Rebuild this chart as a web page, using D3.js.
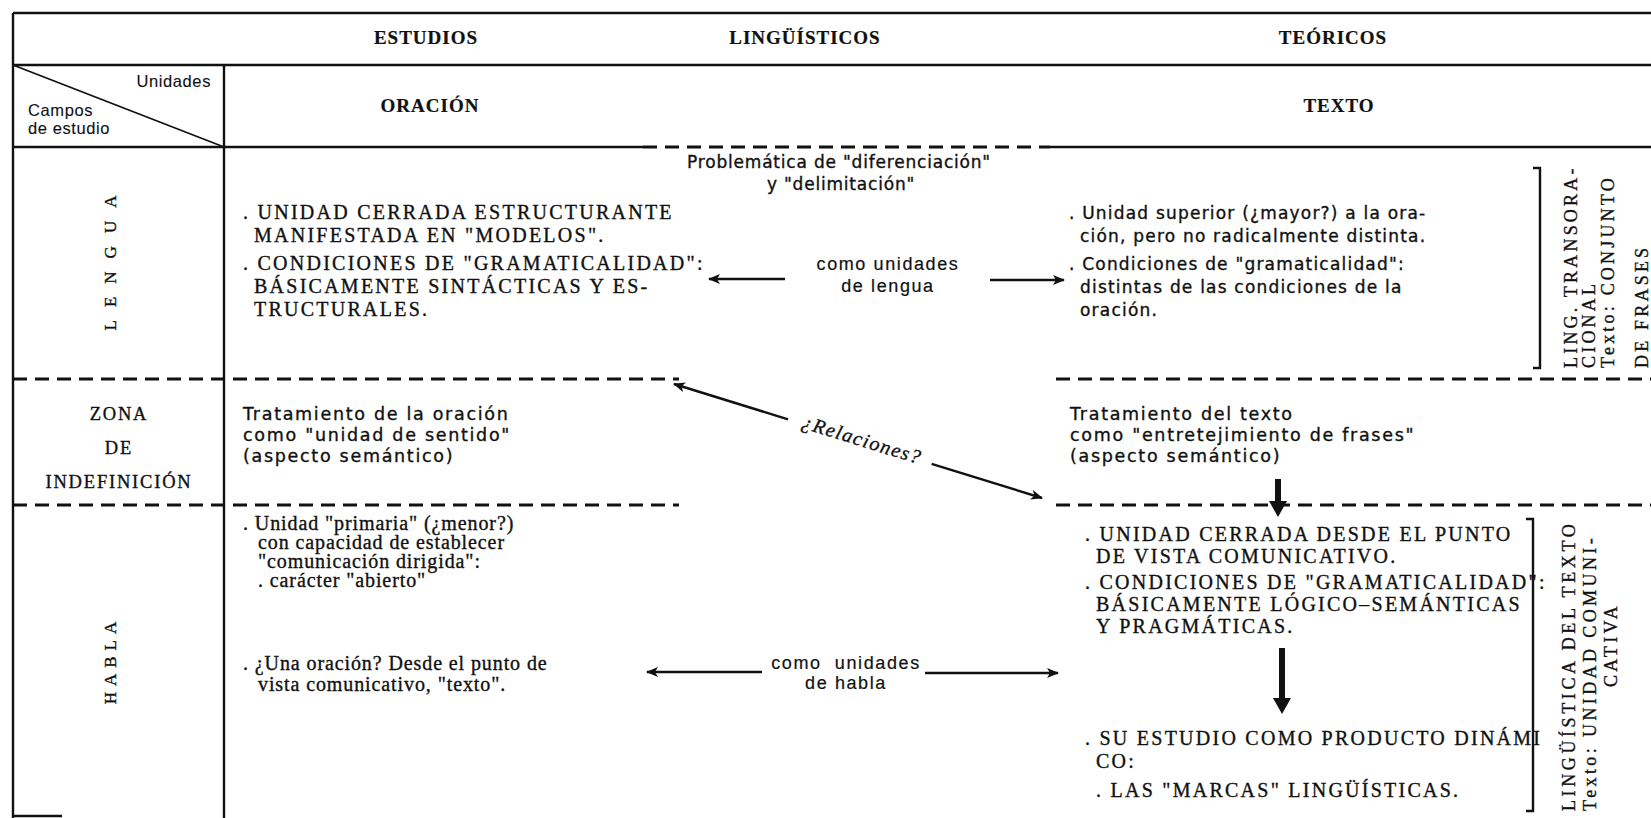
<!DOCTYPE html>
<html><head><meta charset="utf-8">
<script src="https://cdn.jsdelivr.net/npm/d3@7"></script>
<style>body{margin:0;background:#fff;overflow:hidden}</style>
</head><body>
<script>
// ---------- content ----------
const headerWords = ["ESTUDIOS", "LINGÜÍSTICOS", "TEÓRICOS"];
const unitNames = ["ORACIÓN", "TEXTO"];
const cornerUnits = "Unidades";
const cornerFields = ["Campos", "de estudio"];
const fieldRows = ["LENGUA", "ZONA", "HABLA"];
const zonaLabel = ["ZONA", "DE", "INDEFINICIÓN"];
const problemLines = ["Problemática de \"diferenciación\"", "y \"delimitación\""];
const lenguaOracion = [". UNIDAD CERRADA ESTRUCTURANTE", "MANIFESTADA EN \"MODELOS\".",
  ". CONDICIONES DE \"GRAMATICALIDAD\":", "BÁSICAMENTE SINTÁCTICAS Y ES-", "TRUCTURALES."];
const lenguaTexto = [". Unidad superior (¿mayor?) a la ora-", "ción, pero no radicalmente distinta.",
  ". Condiciones de \"gramaticalidad\":", "distintas de las condiciones de la", "oración."];
const lenguaMiddle = ["como unidades", "de lengua"];
const zonaOracion = ["Tratamiento de la oración", "como \"unidad de sentido\"", "(aspecto semántico)"];
const zonaTexto = ["Tratamiento del texto", "como \"entretejimiento de frases\"", "(aspecto semántico)"];
const relationLabel = "¿Relaciones?";
const hablaOracionA = [". Unidad \"primaria\" (¿menor?)", "con capacidad de establecer", "\"comunicación dirigida\":", "  . carácter \"abierto\""];
const hablaOracionB = [". ¿Una oración? Desde el punto de", "vista comunicativo, \"texto\"."];
const hablaMiddle = ["como  unidades", "de habla"];
const hablaTextoA = [". UNIDAD CERRADA DESDE EL PUNTO", "DE VISTA COMUNICATIVO.",
  ". CONDICIONES DE \"GRAMATICALIDAD\":", "BÁSICAMENTE LÓGICO–SEMÁNTICAS", "Y PRAGMÁTICAS."];
const hablaTextoB = [". SU ESTUDIO COMO PRODUCTO DINÁMI", "CO:", "  . LAS \"MARCAS\" LINGÜÍSTICAS."];
const sideNoteLengua = ["LING. TRANSORA-", "CIONAL", "Texto: CONJUNTO", "DE FRASES"];
const sideNoteHabla = ["LINGÜÍSTICA DEL TEXTO", "Texto: UNIDAD COMUNI-", "CATIVA"];

// ---------- layout ----------
const W = 1651, H = 818;
const ink = "#111";
const SERIF = "'Liberation Serif', serif";
const SOFT = "'DejaVu Sans', sans-serif";
const SANS = "'Liberation Sans', sans-serif";

const svg = d3.select("body").append("svg").attr("width", W).attr("height", H);
svg.append("rect").attr("width", W).attr("height", H).attr("fill", "#fff");

const rowY = d3.scaleOrdinal().domain(["top", "head", "units", "LENGUA", "ZONA", "HABLA"])
  .range([13, 65, 147, 379, 505, 818]);
const colX = d3.scaleOrdinal().domain(["left", "split", "right"]).range([13, 224, 1651]);
const headerX = d3.scaleOrdinal().domain(headerWords).range([426, 805, 1333]);
const unitX = d3.scaleOrdinal().domain(unitNames).range([430, 1339]);
const rowCenter = d3.scaleOrdinal().domain(fieldRows).range([263, 448, 663]);

const g = svg.append("g");
function line(x1, y1, x2, y2, w, dash) {
  const l = g.append("line").attr("x1", x1).attr("y1", y1).attr("x2", x2).attr("y2", y2)
    .attr("stroke", ink).attr("stroke-width", w || 2.4);
  if (dash) l.attr("stroke-dasharray", dash);
  return l;
}
const DASH = "14,8";
// frame
line(colX("left"), rowY("top"), colX("right"), rowY("top"), 2.5);
line(colX("left"), rowY("top"), colX("left"), rowY("HABLA"), 2.4);
line(colX("left"), 816, 62, 816, 2.4);
line(colX("left"), rowY("head"), colX("right"), rowY("head"), 2.5);
line(colX("split"), rowY("head"), colX("split"), rowY("HABLA"), 2.4);
line(colX("left"), rowY("units"), 643, rowY("units"), 2.5);
line(643, rowY("units"), 1050, rowY("units"), 2.8, DASH);
line(1050, rowY("units"), colX("right"), rowY("units"), 2.5);
["LENGUA", "ZONA"].forEach(r => {
  line(colX("left"), rowY(r), 679, rowY(r), 2.8, DASH);
  line(1056, rowY(r), colX("right"), rowY(r), 2.8, DASH);
});
line(colX("left"), rowY("head"), colX("split"), rowY("units"), 1.8);

function txt(s, x, y, o) {
  o = o || {};
  const t = g.append("text").attr("x", x).attr("y", y).text(s)
    .attr("fill", ink)
    .attr("stroke", ink).attr("stroke-width", o.sw == null ? 0.35 : o.sw)
    .attr("font-family", o.family || SERIF)
    .attr("font-size", o.size || 19)
    .attr("font-weight", o.weight || 400)
    .attr("letter-spacing", o.ls == null ? 0 : o.ls)
    .attr("text-anchor", o.anchor || "start")
    .style("white-space", "pre");
  if (o.style) t.attr("font-style", o.style);
  if (o.transform) t.attr("transform", o.transform);
  return t;
}

// headers
headerWords.forEach(w => txt(w, headerX(w), 44, {size: 19, weight: 700, anchor: "middle", ls: 1, sw: 0.2}));
unitNames.forEach(w => txt(w, unitX(w), 112, {size: 19, weight: 700, anchor: "middle", ls: 1, sw: 0.2}));
txt(cornerUnits, 211, 87, {family: SANS, size: 16.5, anchor: "end", ls: 0.6, sw: 0.1});
cornerFields.forEach((s, i) => txt(s, 28, 116 + i * 18, {family: SANS, size: 16.5, ls: 0.6, sw: 0.1}));

// row labels (vertical, reading upward)
function vertical(s, cx, cy, size, ls) {
  txt(s, 0, 0, {size: size, anchor: "middle", ls: ls,
    transform: `translate(${cx + size * 0.33},${cy - ls / 2}) rotate(-90)`});
}
vertical("LENGUA", 110, rowCenter("LENGUA"), 17, 13);
vertical("HABLA", 110, rowCenter("HABLA"), 17, 6);
zonaLabel.forEach((s, i) => txt(s, 119, 420 + i * 34, {size: 18.5, anchor: "middle", ls: 1.8}));

// text blocks
function block(lines, x, y0, lh, o, bulletGap, indent) {
  let y = y0;
  lines.forEach((s, i) => {
    if (i > 0 && s.trim().startsWith(".")) y += bulletGap;
    const top = s.startsWith(".");
    txt(s.trim(), top ? x : x + indent, y, o);
    y += lh;
  });
}
const UP = {size: 20, ls: 2.25};
const SO = {family: SOFT, size: 17, ls: 1.2};
const ZO = {family: SOFT, size: 17.5, ls: 1.7};
const HO = {size: 20, ls: 0.9};
block(lenguaOracion, 243, 219, 23, UP, 5, 11);
block(lenguaTexto, 1069, 219, 23, SO, 5, 11);
block(zonaOracion, 243, 420, 21, ZO, 0, 0);
block(zonaTexto, 1070, 420, 21, ZO, 0, 0);
block(hablaOracionA, 243, 530, 19, HO, 0, 15);
block(hablaOracionB, 243, 670, 21, HO, 0, 15);
block(hablaTextoA, 1085, 541, 22, UP, 4, 11);
block(hablaTextoB, 1085, 745, 23, UP, 6, 11);

// central labels
txt(problemLines[0], 839, 168, {family: SOFT, size: 17, anchor: "middle", ls: 0.8});
txt(problemLines[1], 841, 190, {family: SOFT, size: 17, anchor: "middle", ls: 0.8});
lenguaMiddle.forEach((s, i) => txt(s, 888, 270 + i * 22, {family: SANS, size: 18, anchor: "middle", ls: 1.6, sw: 0.2}));
hablaMiddle.forEach((s, i) => txt(s, 846, 669 + i * 20, {family: SANS, size: 18, anchor: "middle", ls: 1.6, sw: 0.2}));

// arrow marker
const defs = svg.append("defs");
defs.append("marker").attr("id", "ah").attr("viewBox", "0 0 12 10").attr("refX", 11).attr("refY", 5)
  .attr("markerWidth", 12).attr("markerHeight", 10).attr("markerUnits", "userSpaceOnUse").attr("orient", "auto")
  .append("path").attr("d", "M0,0 L12,5 L0,10 L3,5 Z").attr("fill", ink);
function arrow(x1, y1, x2, y2, w) {
  return line(x1, y1, x2, y2, w || 2.4).attr("marker-end", "url(#ah)");
}
arrow(785, 279, 709, 279);
arrow(990, 280, 1064, 280);
arrow(762, 672, 647, 672);
arrow(925, 673, 1058, 673);

// ¿Relaciones? connector
const p0 = [674, 384], p1 = [1042, 498];
const lerp = t => [p0[0] + (p1[0] - p0[0]) * t, p0[1] + (p1[1] - p0[1]) * t];
const a = lerp(0.31), b = lerp(0.70), c = lerp(0.5);
arrow(a[0], a[1], p0[0], p0[1], 2.4);
arrow(b[0], b[1], p1[0], p1[1], 2.4);
const ang = Math.atan2(p1[1] - p0[1], p1[0] - p0[0]) * 180 / Math.PI;
txt(relationLabel, 0, 0, {size: 20, anchor: "middle", style: "italic", ls: 1.4,
  transform: `translate(${c[0] + 2},${c[1] + 5}) rotate(${ang})`});

// thick down arrows
function thick(x, y0, y1) {
  const hw = 9, sh = 3, hl = 16;
  g.append("path").attr("fill", ink)
    .attr("d", `M${x - sh},${y0} L${x + sh},${y0} L${x + sh},${y1 - hl} L${x + hw},${y1 - hl} L${x},${y1} L${x - hw},${y1 - hl} L${x - sh},${y1 - hl} Z`);
}
thick(1278, 479, 517);
thick(1282, 648, 714);

// brackets
function bracket(x, y0, y1) {
  g.append("path").attr("fill", "none").attr("stroke", ink).attr("stroke-width", 2.4)
    .attr("d", `M${x - 7},${y0} L${x},${y0} L${x},${y1} L${x - 7},${y1}`);
}
bracket(1540, 168, 368);
bracket(1533, 519, 811);

// side notes (rotated, reading upward)
function side(s, bx, ystart, o) {
  txt(s, 0, 0, Object.assign({size: 18, ls: 3.2}, o, {transform: `translate(${bx},${ystart}) rotate(-90)`}));
}
side(sideNoteLengua[0], 1577, 368, {});
side(sideNoteLengua[1], 1595, 368, {});
side(sideNoteLengua[2], 1614, 368, {});
side(sideNoteLengua[3], 1648, 368, {});
side(sideNoteHabla[0], 1575, 811, {ls: 3.6});
side(sideNoteHabla[1], 1596, 811, {ls: 3.4});
side(sideNoteHabla[2], 1617, 645, {anchor: "middle", ls: 3.4});
</script>
</body></html>
